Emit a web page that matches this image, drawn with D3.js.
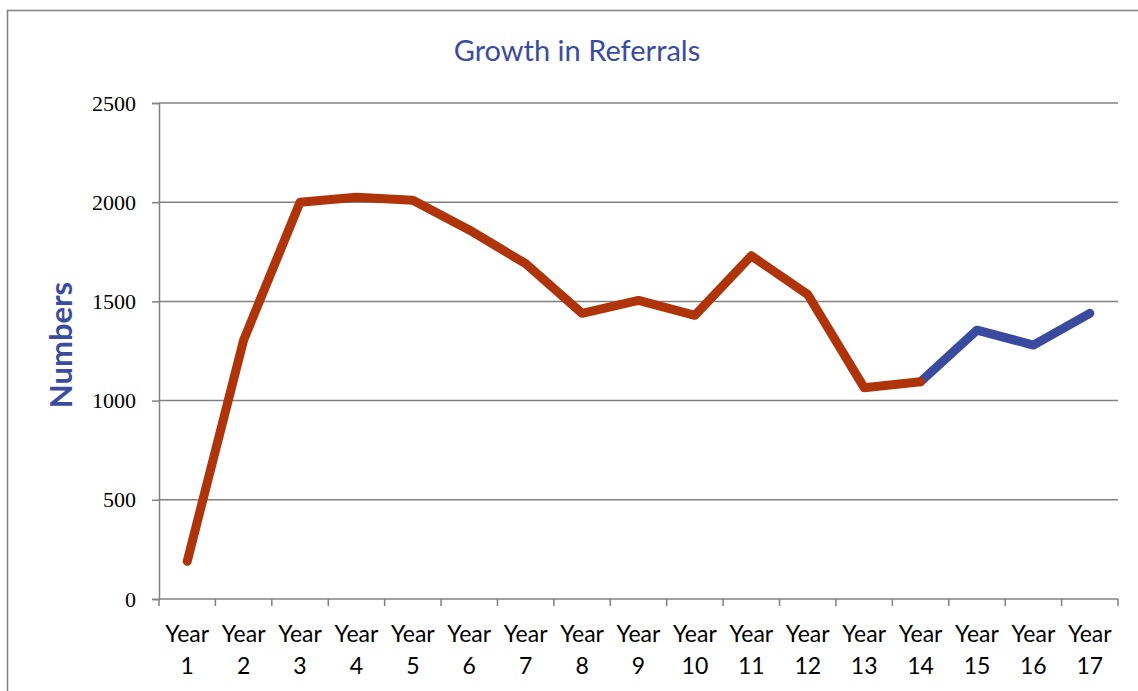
<!DOCTYPE html>
<html>
<head>
<meta charset="utf-8">
<script src="https://cdn.jsdelivr.net/npm/d3@7"></script>
<style>
  body { margin: 0; background: #fff; }
  svg { display: block; }
</style>
</head>
<body>
<svg id="chart" width="1138" height="691"></svg>
<script>
(function(){

	var years = ["1","2","3","4","5","6","7","8","9","10","11","12","13","14","15","16","17"];
	var referrals = [190, 1305, 2000, 2025, 2010, 1860, 1690, 1440, 1505, 1430, 1730, 1535, 1065, 1095, 1355, 1280, 1440];
	var yTicks = [0, 500, 1000, 1500, 2000, 2500];
	var splitAt = 13; // index of Year 14, the line turns blue from here

	var margin = {top: 103, right: 20, bottom: 92, left: 159};
	var svg = d3.select("#chart");

	// outer frame, open on right and bottom like the source picture
	svg.append("path")
		.attr("d", "M7.5,691 L7.5,10.5 L1138,10.5")
		.attr("fill", "none")
		.attr("stroke", "#808080")
		.attr("stroke-width", 1.5);

	var g = svg.append("g")
		.attr("transform", "translate(" + margin.left + "," + margin.top + ")");

	var x = d3.scaleBand()
		.domain(years)
		.range([0, 959]);

	var y = d3.scaleLinear()
		.domain([0, 2500])
		.range([496, 0]);

	// grid
	g.append("g")
		.selectAll("line")
		.data(yTicks.slice(1))
		.enter().append("line")
			.attr("x1", 0)
			.attr("x2", 959)
			.attr("y1", function(d){ return y(d); })
			.attr("y2", function(d){ return y(d); })
			.attr("stroke", "#808080")
			.attr("stroke-width", 1.5);

	// y axis
	var yAxis = g.append("g")
		.call(d3.axisLeft(y).tickValues(yTicks).tickFormat(d3.format("d")).tickSize(7).tickPadding(16));
	yAxis.select(".domain").attr("stroke", "#808080").attr("stroke-width", 1.5);
	yAxis.selectAll(".tick line").attr("stroke", "#808080").attr("stroke-width", 1.5);
	yAxis.selectAll(".tick text")
		.attr("font-family", "'Liberation Serif', 'Times New Roman', serif")
		.attr("font-size", 22)
		.attr("fill", "#000");

	// x axis
	var xAxis = g.append("g")
		.attr("transform", "translate(0," + y(0) + ")");
	xAxis.append("line")
		.attr("x1", 0).attr("x2", 959)
		.attr("stroke", "#808080").attr("stroke-width", 1.5);
	var edges = years.map(function(d){ return x(d); }).concat([959]);
	xAxis.selectAll("line.tk")
		.data(edges)
		.enter().append("line")
			.attr("class", "tk")
			.attr("x1", function(d){ return d; })
			.attr("x2", function(d){ return d; })
			.attr("y1", 0).attr("y2", 7)
			.attr("stroke", "#808080").attr("stroke-width", 1.5);
	var lbl = xAxis.selectAll("text.yl")
		.data(years)
		.enter().append("text")
			.attr("class", "yl")
			.attr("text-anchor", "middle")
			.attr("font-family", "Lato, 'Open Sans', sans-serif")
			.attr("font-size", 23)
			.attr("fill", "#000");
	lbl.append("tspan").attr("x", function(d){ return x(d) + x.bandwidth() / 2; }).attr("y", 43).text("Year");
	lbl.append("tspan").attr("x", function(d){ return x(d) + x.bandwidth() / 2; }).attr("y", 75).text(function(d){ return d; });

	var line = d3.line()
		.x(function(d){ return x(d.year) + x.bandwidth() / 2; })
		.y(function(d){ return y(d.value); });

	var pts = years.map(function(d, i){ return {year: d, value: referrals[i]}; });

	g.append("path")
		.datum(pts.slice(splitAt))
		.attr("d", line)
		.attr("fill", "none")
		.attr("stroke", "#3A4A9E")
		.attr("stroke-width", 9)
		.attr("stroke-linecap", "round")
		.attr("stroke-linejoin", "round");

	g.append("path")
		.datum(pts.slice(0, splitAt + 1))
		.attr("d", line)
		.attr("fill", "none")
		.attr("stroke", "#B0340A")
		.attr("stroke-width", 9)
		.attr("stroke-linecap", "round")
		.attr("stroke-linejoin", "round");

	// title
	svg.append("text")
		.attr("x", 577)
		.attr("y", 61)
		.attr("text-anchor", "middle")
		.attr("font-family", "Lato, 'Open Sans', sans-serif")
		.attr("font-size", 29)
		.attr("fill", "#3B4C9F")
		.text("Growth in Referrals");

	// y label
	svg.append("text")
		.attr("transform", "translate(72,345) rotate(-90)")
		.attr("text-anchor", "middle")
		.attr("font-family", "Lato, 'Open Sans', sans-serif")
		.attr("font-weight", "bold")
		.attr("font-size", 31)
		.attr("fill", "#3B4C9F")
		.text("Numbers");

})();
</script>
</body>
</html>
